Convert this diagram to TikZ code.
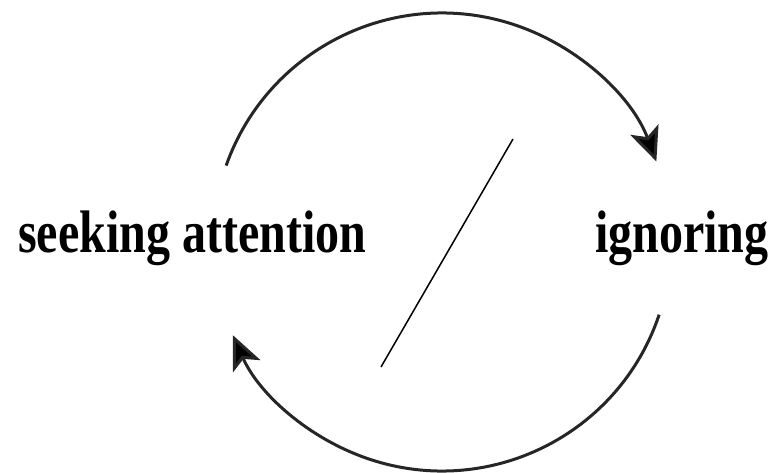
\documentclass[tikz,border=0pt]{standalone}
\usepackage{fontspec}
\setmainfont{Liberation Serif}
\newfontfamily\condfont[FakeStretch=0.8]{Liberation Serif}
\usetikzlibrary{arrows.meta}
\begin{document}
\begin{tikzpicture}[x=1pt,y=1pt,
  lbl/.style={inner sep=0pt,anchor=base west,font=\condfont\bfseries\fontsize{60}{60}\selectfont},
  cyc/.style={line width=3pt,draw=black!85,-{Stealth[length=34pt,width=30pt,inset=8pt,fill=black]}}]
\useasboundingbox (0,0) rectangle (774,472);
\coordinate (c) at (442,230);
\node[lbl] (seek) at (18,219) {seeking attention};
\node[lbl] (ignore) at (595,219) {ignoring};
\draw[cyc] (c) ++(160.5:229) arc[start angle=160.5,end angle=20.6,radius=229];
\draw[cyc] (c) ++(-18.5:229) arc[start angle=-18.5,end angle=-156,radius=229];
\coordinate (la) at (513,333);
\coordinate (lb) at (381,105);
\draw[line width=1.5pt] (la) -- (lb);
\end{tikzpicture}
\end{document}
